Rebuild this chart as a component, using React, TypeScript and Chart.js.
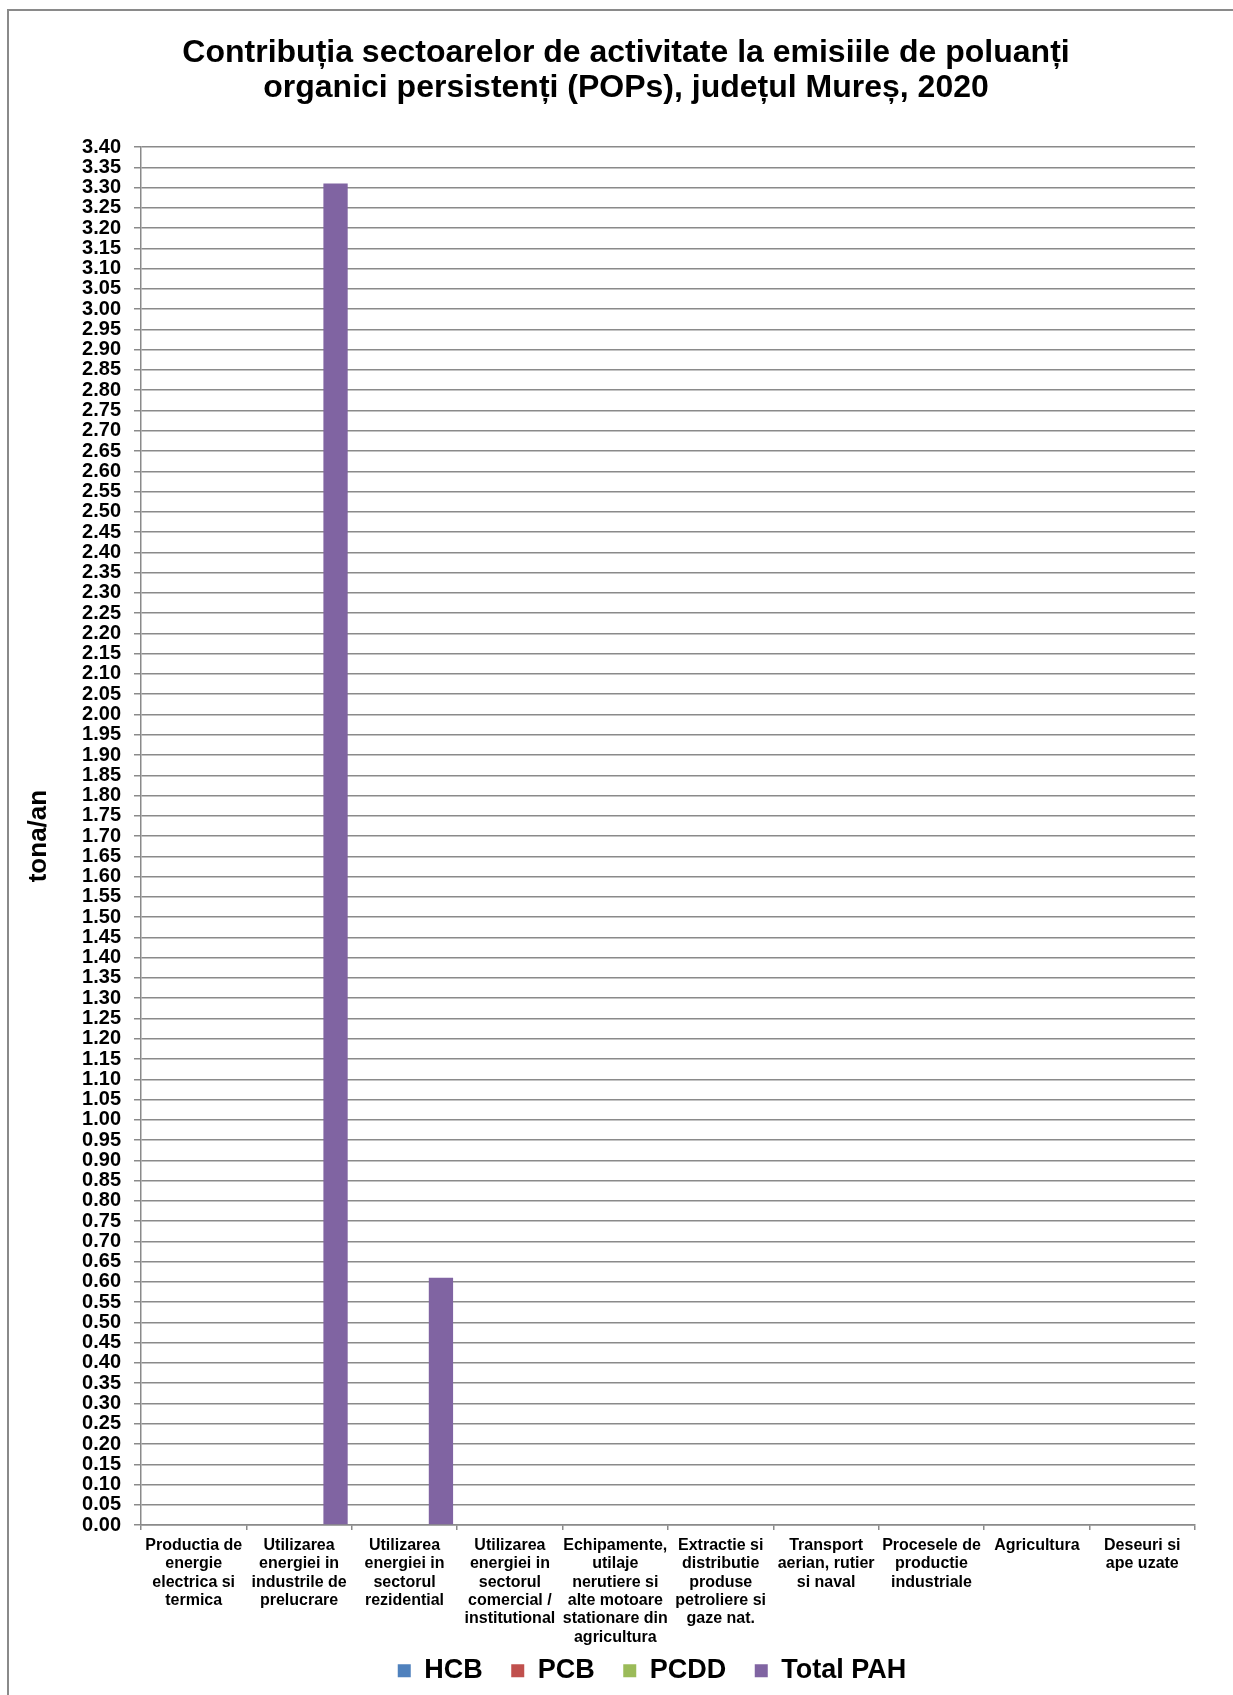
import React, { useEffect, useRef } from "react";
import { Chart, registerables } from "chart.js";

Chart.register(...registerables);

// Sectors of activity (multi-line category labels)
const categoryLabels: string[][] = [
  ["Productia de", "energie", "electrica si", "termica"],
  ["Utilizarea", "energiei in", "industrile de", "prelucrare"],
  ["Utilizarea", "energiei in", "sectorul", "rezidential"],
  ["Utilizarea", "energiei in", "sectorul", "comercial /", "institutional"],
  ["Echipamente,", "utilaje", "nerutiere si", "alte motoare", "stationare din", "agricultura"],
  ["Extractie si", "distributie", "produse", "petroliere si", "gaze nat."],
  ["Transport", "aerian, rutier", "si naval"],
  ["Procesele de", "productie", "industriale"],
  ["Agricultura"],
  ["Deseuri si", "ape uzate"],
];

// Emissions, tonnes / year
const hcbValues = [0, 0, 0, 0, 0, 0, 0, 0, 0, 0];
const pcbValues = [0, 0, 0, 0, 0, 0, 0, 0, 0, 0];
const pcddValues = [0, 0, 0, 0, 0, 0, 0, 0, 0, 0];
const totalPahValues = [0, 3.31, 0.61, 0, 0, 0, 0, 0, 0, 0];

const seriesNames = ["HCB", "PCB", "PCDD", "Total PAH"];
const seriesColors = ["#4F81BD", "#C0504D", "#9BBB59", "#8064A2"];

const titleLines = [
  "Contribuția sectoarelor de activitate la emisiile de poluanți",
  "organici persistenți (POPs), județul Mureș, 2020",
];
const yAxisTitle = "tona/an";
const yMin = 0;
const yMax = 3.4;
const yStep = 0.05;

const gridColor = "#8a8a8a";
const FONT = "'Liberation Sans', Arial, Helvetica, sans-serif";

// nudges the legend row a little to the left of the plot centre
const legendShift = {
  id: "legendShift",
  afterLayout(chart: any) {
    const lg = chart.legend;
    if (!lg) return;
    lg.left -= 16;
    lg.right -= 16;
  },
};

export default function App() {
  const canvasRef = useRef<HTMLCanvasElement | null>(null);

  useEffect(() => {
    if (!canvasRef.current) return;
    Chart.defaults.font.family = FONT;
    const seriesValues = [hcbValues, pcbValues, pcddValues, totalPahValues];
    const chart = new Chart(canvasRef.current, {
      type: "bar",
      data: {
        labels: categoryLabels,
        datasets: seriesNames.map((name, i) => ({
          label: name,
          data: seriesValues[i],
          backgroundColor: seriesColors[i],
          borderWidth: 0,
          barPercentage: 1,
          categoryPercentage: 0.922,
        })),
      },
      plugins: [legendShift],
      options: {
        responsive: false,
        animation: false,
        layout: { padding: { left: 48, right: 48, top: 0, bottom: 0.8 } },
        plugins: {
          title: {
            display: true,
            text: titleLines,
            color: "#000",
            font: { family: FONT, size: 32, weight: "bold", lineHeight: 1.11 },
            padding: { top: 24.2, bottom: 40.8 },
          },
          legend: {
            position: "bottom",
            fullSize: false,
            labels: {
              boxWidth: 13,
              boxHeight: 13,
              padding: 28.5,
              color: "#000",
              font: { family: FONT, size: 27, weight: "bold" },
            },
          },
          tooltip: { enabled: false },
        },
        scales: {
          x: {
            grid: {
              drawOnChartArea: false,
              drawTicks: true,
              tickLength: 5,
              color: gridColor,
              lineWidth: 1.5,
            },
            border: { color: gridColor, width: 1.5 },
            ticks: {
              color: "#000",
              font: { family: FONT, size: 16, weight: "bold", lineHeight: 1.15 },
              padding: 6,
              autoSkip: false,
              maxRotation: 0,
              minRotation: 0,
            },
            afterFit: (scale: any) => {
              scale.height = 103.6;
              // let the long category labels run past the axis box
              scale._computeLabelArea = () => undefined;
            },
          },
          y: {
            min: yMin,
            max: yMax,
            ticks: {
              stepSize: yStep,
              autoSkip: false,
              color: "#000",
              font: { family: FONT, size: 20, weight: "bold" },
              padding: 13,
              callback: (v: any) => Number(v).toFixed(2),
            },
            grid: { color: gridColor, lineWidth: 1.5, tickLength: 7 },
            border: { color: gridColor, width: 1.5 },
            title: {
              display: true,
              text: yAxisTitle,
              color: "#000",
              font: { family: FONT, size: 26, weight: "bold" },
              padding: { top: -34, bottom: 0 },
            },
            afterFit: (scale: any) => {
              scale.width = 84;
            },
          },
        },
      },
    } as any);
    return () => chart.destroy();
  }, []);

  return (
    <div
      style={{
        position: "fixed",
        left: 7,
        top: 9,
        width: 1300,
        height: 1750,
        border: "2px solid #8a8a8a",
        background: "#fff",
      }}
    >
      <canvas
        ref={canvasRef}
        width={1234}
        height={1684}
        style={{ position: "absolute", left: 0, top: 0, width: 1234, height: 1684 }}
      />
    </div>
  );
}
